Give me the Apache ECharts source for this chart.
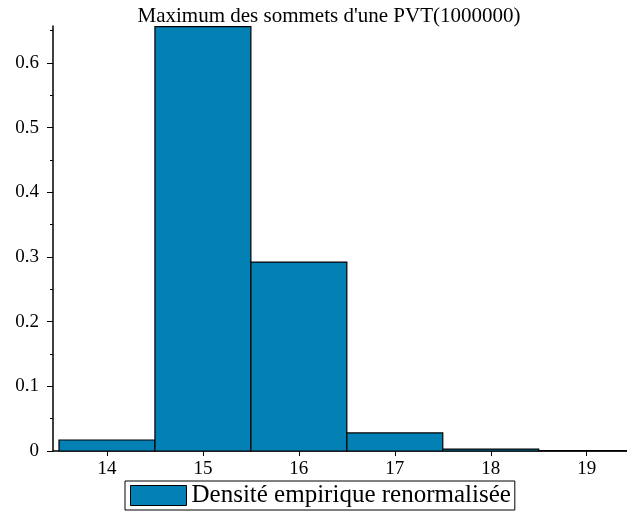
<!DOCTYPE html>
<html lang="fr">

<head>
  <meta charset="UTF-8">
  <title>PVT</title>
  <script src="https://cdn.jsdelivr.net/npm/echarts@6/dist/echarts.min.js"></script>
  <style>
    * {
      padding: 0;
      margin: 0;
    }

    #box {
      width: 627px;
      height: 512px;
    }
  </style>
</head>

<body>
  <div id="box"></div>
  <script>
    // histogramme : bornes des classes et hauteurs
    var binStart = [13.5, 14.5, 15.5, 16.5, 17.5, 18.5]
    var binEnd = [14.5, 15.5, 16.5, 17.5, 18.5, 19.5]
    var density = [0.017, 0.656, 0.292, 0.028, 0.003, 0.0005]
    var xTicks = [14, 15, 16, 17, 18, 19]
    var yTicks = [0, 0.1, 0.2, 0.3, 0.4, 0.5, 0.6]
    var yMinor = [0.05, 0.15, 0.25, 0.35, 0.45, 0.55, 0.65]

    var serif = 'Liberation Serif'
    var barColor = '#0380b4'

    var data = []
    for (let i = 0; i < density.length; i++) {
      data.push([binStart[i], binEnd[i], density[i]])
    }

    var mCharts = echarts.init(document.getElementById('box'))
    var option = {
      animation: false,
      title: {
        text: "Maximum des sommets d'une PVT(1000000)",
        left: 324,
        top: 1,
        textAlign: 'center',
        textStyle: { fontFamily: serif, fontSize: 21, fontWeight: 'normal', color: '#000' }
      },
      legend: {
        left: 125,
        top: 481,
        data: ['Densité empirique renormalisée'],
        icon: 'rect',
        itemWidth: 56,
        itemHeight: 20,
        itemGap: 6,
        padding: [2, 4, 2, 5],
        borderColor: '#000',
        borderWidth: 1,
        itemStyle: { borderColor: '#000', borderWidth: 1 },
        textStyle: { fontFamily: serif, fontSize: 25, lineHeight: 22, color: '#000' }
      },
      grid: { left: 53, right: 0, top: 26, bottom: 61 },
      xAxis: {
        type: 'value',
        min: 13.4375,
        max: 19.42,
        axisLine: { lineStyle: { color: '#000', width: 1.5 } },
        axisTick: { customValues: xTicks, length: 5, lineStyle: { color: '#000' } },
        axisLabel: { customValues: xTicks, fontFamily: serif, fontSize: 19, color: '#000', margin: 9 },
        splitLine: { show: false }
      },
      yAxis: [{
        type: 'value',
        min: 0,
        max: 0.657,
        axisLine: { show: true, lineStyle: { color: '#000', width: 1.5 } },
        axisTick: { show: true, customValues: yTicks, length: 6, lineStyle: { color: '#000' } },
        axisLabel: { customValues: yTicks, fontFamily: serif, fontSize: 19, color: '#000', margin: 14 },
        splitLine: { show: false }
      }, {
        type: 'value',
        position: 'left',
        min: 0,
        max: 0.657,
        axisLine: { show: false },
        axisTick: { show: true, customValues: yMinor, length: 3, lineStyle: { color: '#000' } },
        axisLabel: { show: false },
        splitLine: { show: false }
      }],
      series: [{
        name: 'Densité empirique renormalisée',
        type: 'custom',
        itemStyle: { color: barColor, borderColor: '#000', borderWidth: 1 },
        renderItem: function (params, api) {
          var p0 = api.coord([api.value(0), api.value(2)])
          var p1 = api.coord([api.value(1), 0])
          return {
            type: 'rect',
            shape: { x: p0[0], y: p0[1], width: p1[0] - p0[0], height: p1[1] - p0[1] },
            style: { fill: barColor, stroke: '#000', lineWidth: 1.2 }
          }
        },
        encode: { x: [0, 1], y: 2 },
        data: data
      }]
    }
    mCharts.setOption(option)
  </script>
</body>

</html>
